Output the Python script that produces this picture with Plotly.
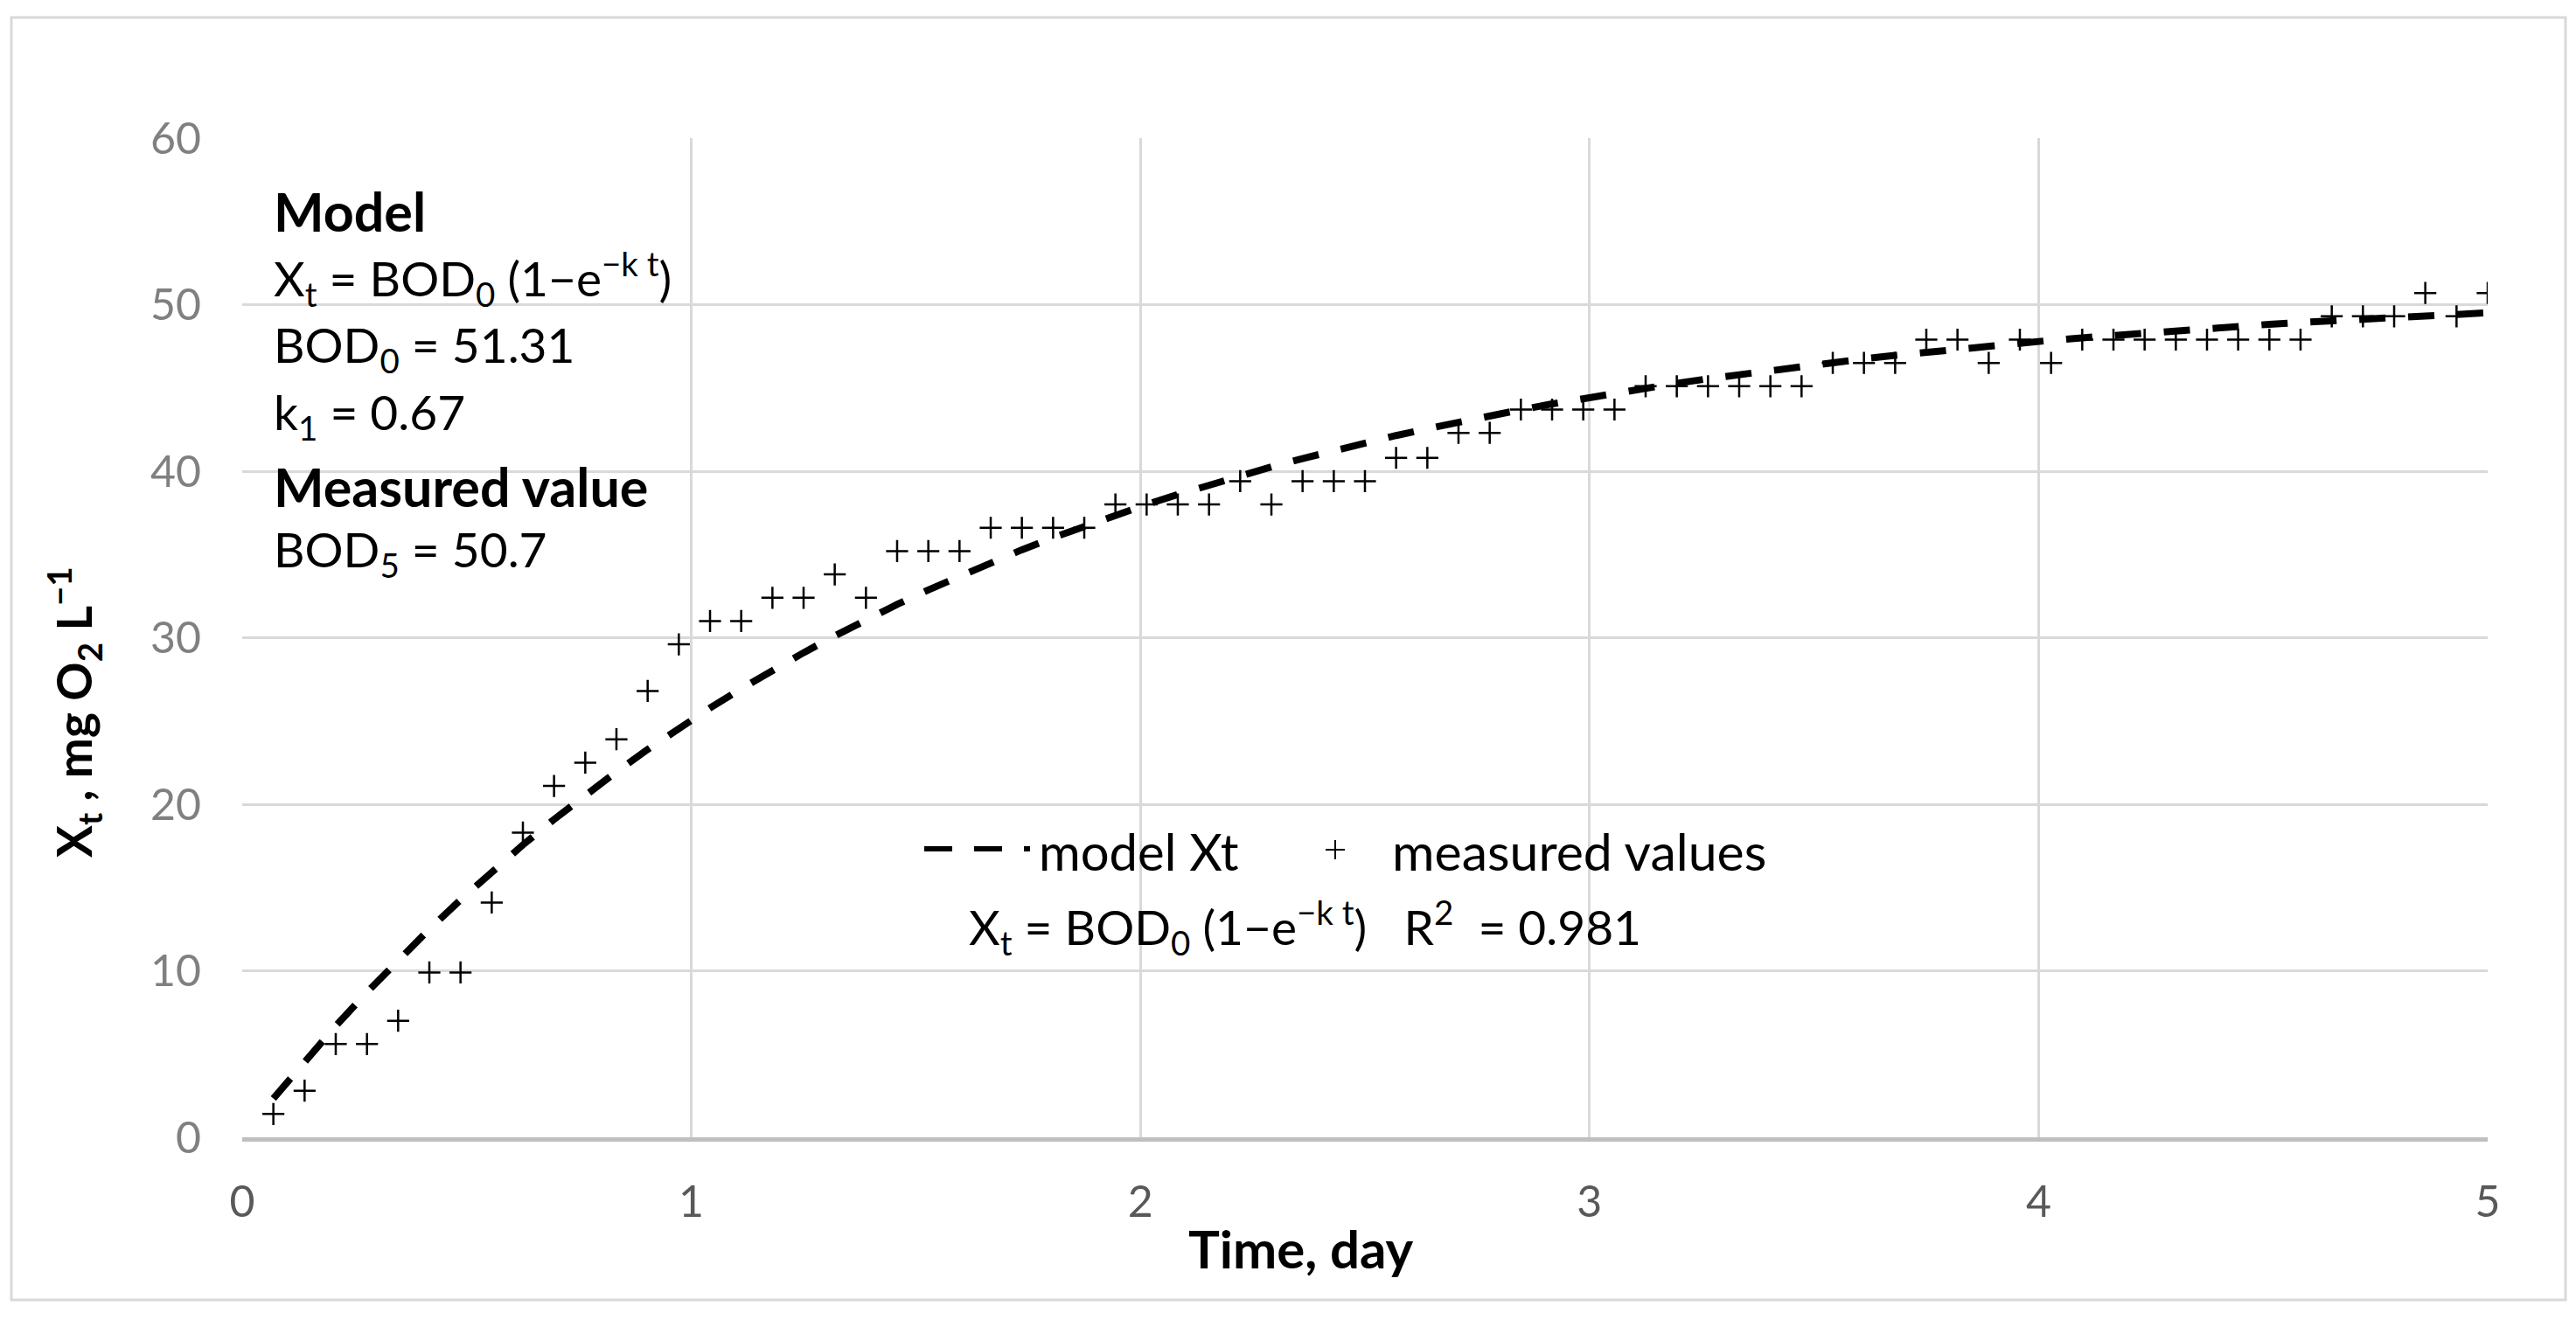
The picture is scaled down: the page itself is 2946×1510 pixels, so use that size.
import plotly.graph_objects as go

# ---------------- data ----------------
time_day = [0.0694, 0.1389, 0.2083, 0.2778, 0.3472, 0.4167, 0.4861, 0.5556, 0.625, 0.6944,
            0.7639, 0.8333, 0.9028, 0.9722, 1.0417, 1.1111, 1.1806, 1.25, 1.3194, 1.3889,
            1.4583, 1.5278, 1.5972, 1.6667, 1.7361, 1.8056, 1.875, 1.9444, 2.0139, 2.0833,
            2.1528, 2.2222, 2.2917, 2.3611, 2.4306, 2.5, 2.5694, 2.6389, 2.7083, 2.7778,
            2.8472, 2.9167, 2.9861, 3.0556, 3.125, 3.1944, 3.2639, 3.3333, 3.4028, 3.4722,
            3.5417, 3.6111, 3.6806, 3.75, 3.8194, 3.8889, 3.9583, 4.0278, 4.0972, 4.1667,
            4.2361, 4.3056, 4.375, 4.4444, 4.5139, 4.5833, 4.6528, 4.7222, 4.7917, 4.8611,
            4.9306, 5.0]

measured_values = [1.4, 2.8, 5.6, 5.6, 7.0, 9.9, 9.9, 14.1, 18.3, 21.1,
                   22.5, 23.9, 26.8, 29.6, 31.0, 31.0, 32.4, 32.4, 33.8, 32.4,
                   35.2, 35.2, 35.2, 36.6, 36.6, 36.6, 36.6, 38.0, 38.0, 38.0,
                   38.0, 39.4, 38.0, 39.4, 39.4, 39.4, 40.8, 40.8, 42.3, 42.3,
                   43.7, 43.7, 43.7, 43.7, 45.1, 45.1, 45.1, 45.1, 45.1, 45.1,
                   46.5, 46.5, 46.5, 47.9, 47.9, 46.5, 47.9, 46.5, 47.9, 47.9,
                   47.9, 47.9, 47.9, 47.9, 47.9, 47.9, 49.3, 49.3, 49.3, 50.7,
                   49.3, 50.7]

model_xt = [2.33, 4.56, 6.69, 8.71, 10.65, 12.50, 14.26, 15.95, 17.56, 19.09,
            20.55, 21.95, 23.29, 24.56, 25.78, 26.94, 28.05, 29.10, 30.11, 31.08,
            32.00, 32.87, 33.71, 34.51, 35.28, 36.01, 36.70, 37.37, 38.00, 38.60,
            39.18, 39.73, 40.26, 40.76, 41.24, 41.70, 42.14, 42.55, 42.95, 43.33,
            43.69, 44.04, 44.37, 44.69, 44.99, 45.28, 45.55, 45.81, 46.06, 46.30,
            46.53, 46.75, 46.95, 47.15, 47.34, 47.52, 47.69, 47.86, 48.01, 48.16,
            48.31, 48.44, 48.57, 48.70, 48.82, 48.93, 49.04, 49.14, 49.24, 49.33,
            49.42, 49.51]

x_ticks = [0, 1, 2, 3, 4, 5]
y_ticks = [0, 10, 20, 30, 40, 50, 60]

info_lines = ["<b>Model</b>",
              "X<sub>t</sub> = BOD<sub>0</sub> (1\u2212e<sup>\u2212k t</sup>)",
              "BOD<sub>0</sub> = 51.31",
              "k<sub>1</sub> = 0.67",
              "<b>Measured value</b>",
              "BOD<sub>5</sub> = 50.7"]
info_bold = [True, False, False, False, True, False]

# ---------------- layout geometry ----------------
# target positions are given in screenshot pixels; the page body adds an 8px margin
OFF = 8
W, H = 2946 - 2 * OFF, 1510 - 2 * OFF
PL, PR, PT, PB = 277, 2845, 158, 1301        # plot area in screenshot pixels
FONT = "Lato, 'Open Sans', sans-serif"


def px(xp):
    return (xp - PL) / (PR - PL)


def py(yp):
    return (PB - yp) / (PB - PT)


fig = go.Figure()
fig.add_trace(go.Scatter(
    x=time_day, y=model_xt, mode="lines", name="model Xt",
    line=dict(color="black", width=8, dash="30px,26px"),
    showlegend=False))
fig.add_trace(go.Scatter(
    x=time_day, y=measured_values, mode="markers", name="measured values",
    marker=dict(symbol="cross-thin", size=18, line=dict(color="black", width=2.5), color="black"),
    showlegend=False))

annotations = []
# info block top-left
info_y = [241, 318, 398, 475, 556, 632]
for txt, yy, bold in zip(info_lines, info_y, info_bold):
    annotations.append(dict(text=txt, xref="paper", yref="paper", x=px(311), y=py(yy),
                            xanchor="left", yanchor="middle", showarrow=False,
                            font=dict(family=FONT, size=61 if bold else 55, color="black")))

# custom legend
annotations.append(dict(text="model Xt", xref="paper", yref="paper", x=px(1186), y=py(973),
                        xanchor="left", yanchor="middle", showarrow=False,
                        font=dict(family=FONT, size=58, color="black")))
annotations.append(dict(text="measured values", xref="paper", yref="paper", x=px(1590), y=py(973),
                        xanchor="left", yanchor="middle", showarrow=False,
                        font=dict(family=FONT, size=59, color="black")))
annotations.append(dict(text="X<sub>t</sub> = BOD<sub>0</sub> (1\u2212e<sup>\u2212k t</sup>)\u00a0\u00a0\u00a0R<sup>2</sup>\u00a0 = 0.981",
                        xref="paper", yref="paper", x=px(1106), y=py(1060),
                        xanchor="left", yanchor="middle", showarrow=False,
                        font=dict(family=FONT, size=55, color="black")))

# axis titles
annotations.append(dict(text="<b>Time, day</b>", xref="paper", yref="paper", x=px(1488), y=py(1428),
                        xanchor="center", yanchor="middle", showarrow=False,
                        font=dict(family=FONT, size=60, color="black")))
annotations.append(dict(text="<b>X<sub>t</sub> , mg O<sub>2</sub> L<sup>\u22121</sup></b>",
                        xref="paper", yref="paper", x=px(84), y=py(815), textangle=-90,
                        xanchor="center", yanchor="middle", showarrow=False,
                        font=dict(family=FONT, size=55, color="black")))

shapes = [
    # outer chart border
    dict(type="rect", xref="paper", yref="paper", x0=px(13), x1=px(2934), y0=py(1487), y1=py(20),
         line=dict(color="#D9D9D9", width=3), fillcolor="rgba(0,0,0,0)", layer="below"),
    # legend dashed sample
    dict(type="line", xref="paper", yref="paper", x0=px(1057), x1=px(1178), y0=py(971), y1=py(971),
         line=dict(color="black", width=6, dash="32px,25px")),
    # legend plus sample
    dict(type="line", xref="paper", yref="paper", x0=px(1516), x1=px(1538), y0=py(972), y1=py(972),
         line=dict(color="black", width=2)),
    dict(type="line", xref="paper", yref="paper", x0=px(1527), x1=px(1527), y0=py(961), y1=py(983),
         line=dict(color="black", width=2)),
]

fig.update_layout(
    width=W, height=H,
    margin=dict(l=PL - OFF, r=(W + OFF) - PR, t=PT - OFF, b=(H + OFF) - PB, pad=0),
    paper_bgcolor="white", plot_bgcolor="white",
    showlegend=False,
    annotations=annotations,
    shapes=shapes,
    xaxis=dict(range=[0, 5], tickvals=x_ticks, showgrid=True, gridcolor="#D9D9D9", gridwidth=3,
               zeroline=False, showline=True, linecolor="#BFBFBF", linewidth=5,
               ticks="", ticklabelstandoff=26,
               tickfont=dict(family=FONT, size=50, color="#595959")),
    yaxis=dict(range=[0, 60], tickvals=y_ticks, showgrid=True, gridcolor="#D9D9D9", gridwidth=3,
               zeroline=False, showline=False,
               ticks="", ticklabelstandoff=46,
               tickfont=dict(family=FONT, size=50, color="#808080")),
)

fig.write_html("out.html")
